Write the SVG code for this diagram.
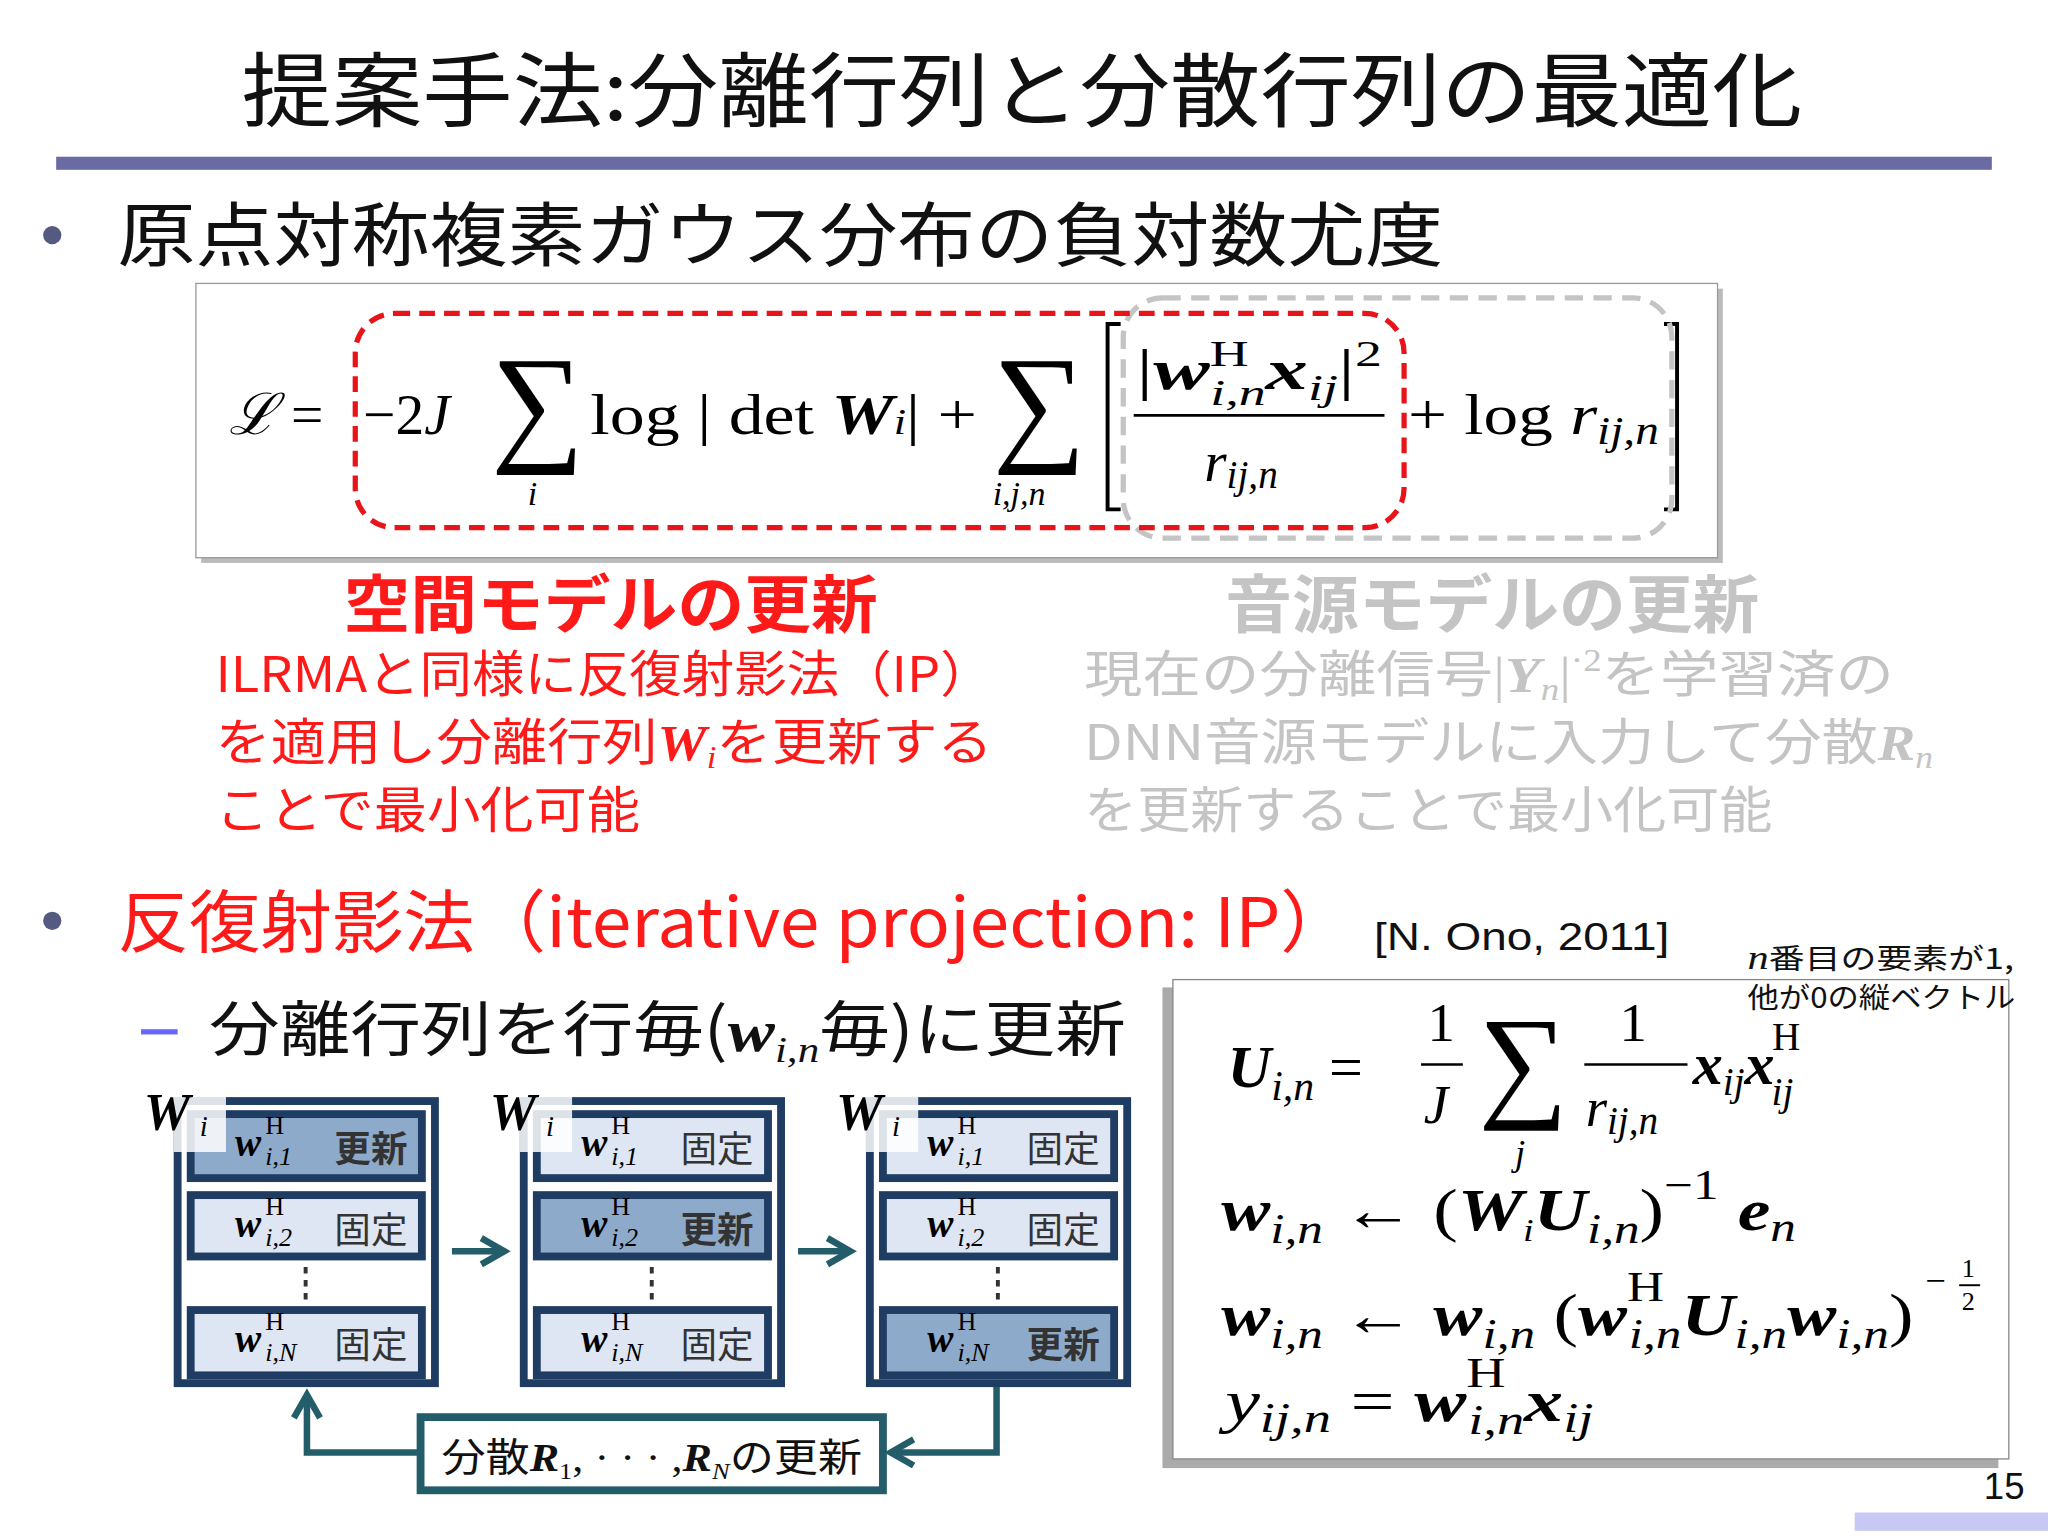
<svg xmlns="http://www.w3.org/2000/svg" width="2048" height="1536" viewBox="0 0 2048 1536">
<defs>
<style>
.jp{font-family:"Noto Sans CJK JP","Liberation Sans",sans-serif}
.m{font-family:"Liberation Serif",serif;font-style:italic}
.mr{font-family:"Liberation Serif",serif}
.mb{font-family:"Liberation Serif",serif;font-style:italic;font-weight:bold}
.red{fill:#ff1a1a}
.gr{fill:#c4c4c4}
.outer{fill:#1f3c63;stroke:none}
.lt{fill:#dde6f2}
.dk{fill:#8eaacb}
</style>
<marker id="ah" viewBox="0 0 10 10" refX="8" refY="5" markerWidth="5" markerHeight="5" orient="auto"><path d="M1,1 L8,5 L1,9" fill="none" stroke="#245d6a" stroke-width="2"/></marker>
<marker id="ak" viewBox="0 0 10 10" refX="9" refY="5" markerWidth="8" markerHeight="8" orient="auto"><path d="M1,1 L9,5 L1,9" fill="none" stroke="#000" stroke-width="1"/></marker>
</defs>
<rect width="2048" height="1536" fill="#fff"/>
<g transform="scale(1.30612)">
<g id="title">
<text x="185" y="92" class="jp" font-size="62" fill="#111" textLength="1195" lengthAdjust="spacingAndGlyphs">提案手法:分離行列と分散行列の最適化</text>
<rect x="43" y="120" width="1482" height="10" fill="#6b6ba3"/>
</g>
<g id="bullet1">
<circle cx="40" cy="180" r="7" fill="#555a80"/>
<text x="90" y="200" class="jp" font-size="54" fill="#111" textLength="1015" lengthAdjust="spacingAndGlyphs">原点対称複素ガウス分布の負対数尤度</text>
</g>
<g id="eqbox">
<rect x="154" y="221" width="1165" height="210" fill="#bbb"/>
<rect x="150" y="217" width="1165" height="210" fill="#fff" stroke="#999" stroke-width="1"/>
<text x="175" y="332" font-size="44"><tspan class="m">ℒ</tspan><tspan class="mr"> = </tspan></text>
<text x="278" y="332" font-size="44" class="mr">−2<tspan class="m">J</tspan></text>
<text x="376" y="342" class="mr" font-size="100">∑</text>
<text x="404" y="387" class="m" font-size="26">i</text>
<text x="452" y="332" font-size="44" textLength="296" lengthAdjust="spacingAndGlyphs"><tspan class="mr">log | det </tspan><tspan class="mb">W</tspan><tspan class="m" font-size="28">i</tspan><tspan class="mr">| +</tspan></text>
<text x="760" y="342" class="mr" font-size="100">∑</text>
<text x="760" y="387" class="m" font-size="26">i,j,n</text>
<text x="870" y="298" font-size="44" textLength="188" lengthAdjust="spacingAndGlyphs"><tspan class="mr">|</tspan><tspan class="mb">w</tspan><tspan class="mr" font-size="28" dy="-18">H</tspan><tspan class="m" font-size="28" dx="-20" dy="30">i,n</tspan><tspan class="mb" dy="-12">x</tspan><tspan class="m" font-size="28" dy="8">ij</tspan><tspan class="mr" dy="-8">|</tspan><tspan class="mr" font-size="28" dy="-18">2</tspan></text>
<line x1="868" y1="318" x2="1060" y2="318" stroke="#000" stroke-width="2"/>
<text x="922" y="368" font-size="44"><tspan class="m">r</tspan><tspan class="m" font-size="30" dy="6">ij,n</tspan></text>
<text x="1078" y="332" font-size="44" textLength="192" lengthAdjust="spacingAndGlyphs"><tspan class="mr">+ log </tspan><tspan class="m">r</tspan><tspan class="m" font-size="30" dy="8">ij,n</tspan></text>
<path d="M1274,248 h10 v142 h-10" fill="none" stroke="#000" stroke-width="3"/>
<path d="M858,248 h-10 v142 h10" fill="none" stroke="#000" stroke-width="3"/>
<rect x="860" y="228" width="420" height="184" rx="30" fill="none" stroke="#c4c4c4" stroke-width="4" stroke-dasharray="14 8"/>
<rect x="272" y="240" width="803" height="164" rx="30" fill="none" stroke="#e8141a" stroke-width="4" stroke-dasharray="12 7"/>
</g>
<g id="spatial">
<text x="263" y="480" class="jp red" font-weight="bold" font-size="48" textLength="409" lengthAdjust="spacingAndGlyphs">空間モデルの更新</text>
<text x="165" y="530" class="jp red" font-size="38" textLength="595" lengthAdjust="spacingAndGlyphs">ILRMAと同様に反復射影法（IP）</text>
<text x="165" y="582" class="jp red" font-size="38" textLength="595" lengthAdjust="spacingAndGlyphs">を適用し分離行列<tspan class="mb">W</tspan><tspan class="m" font-size="24" dy="6">i</tspan><tspan dy="-6">を更新する</tspan></text>
<text x="165" y="634" class="jp red" font-size="38" textLength="325" lengthAdjust="spacingAndGlyphs">ことで最小化可能</text>
</g>
<g id="source">
<text x="938" y="480" class="jp gr" font-weight="bold" font-size="48" textLength="409" lengthAdjust="spacingAndGlyphs">音源モデルの更新</text>
<text x="830" y="530" class="jp gr" font-size="38" textLength="620" lengthAdjust="spacingAndGlyphs">現在の分離信号<tspan class="mr">|</tspan><tspan class="mb">Y</tspan><tspan class="m" font-size="24" dy="6">n</tspan><tspan class="mr" dy="-6">|</tspan><tspan class="mr" font-size="24" dy="-16">·2</tspan><tspan dy="16">を学習済の</tspan></text>
<text x="830" y="582" class="jp gr" font-size="38" textLength="650" lengthAdjust="spacingAndGlyphs">DNN音源モデルに入力して分散<tspan class="mb">R</tspan><tspan class="m" font-size="24" dy="6">n</tspan></text>
<text x="830" y="634" class="jp gr" font-size="38" textLength="527" lengthAdjust="spacingAndGlyphs">を更新することで最小化可能</text>
</g>
<g id="bullet2">
<circle cx="40" cy="705" r="7" fill="#555a80"/>
<text x="90" y="725" class="jp red" font-size="52" textLength="945" lengthAdjust="spacingAndGlyphs">反復射影法（iterative projection: IP）</text>
<text x="1052" y="727" font-family="Liberation Sans,sans-serif" font-size="30" fill="#111" textLength="226" lengthAdjust="spacingAndGlyphs">[N. Ono, 2011]</text>
<rect x="108" y="788" width="28" height="4" fill="#6666ff"/>
<text x="160" y="805" class="jp" font-size="46" fill="#111" textLength="702" lengthAdjust="spacingAndGlyphs">分離行列を行毎(<tspan class="mb">w</tspan><tspan class="m" font-size="28" dy="8">i,n</tspan><tspan dy="-8">毎)に更新</tspan></text>
</g>
<g id="mat1">
<rect x="133" y="840" width="203" height="222" class="outer"/>
<rect x="139" y="846" width="191" height="210" fill="#fff"/>
<rect x="143" y="850" width="183" height="55" class="outer"/><rect x="149" y="856" width="171" height="43" class="dk"/>
<rect x="143" y="912" width="183" height="53" class="outer"/><rect x="149" y="918" width="171" height="41" class="lt"/>
<rect x="143" y="1000" width="183" height="56" class="outer"/><rect x="149" y="1006" width="171" height="44" class="lt"/>
<line x1="234" y1="970" x2="234" y2="997" stroke="#333" stroke-width="3" stroke-dasharray="5 5"/>
</g>
<g id="mat2">
<rect x="398" y="840" width="203" height="222" class="outer"/>
<rect x="404" y="846" width="191" height="210" fill="#fff"/>
<rect x="408" y="850" width="183" height="55" class="outer"/><rect x="414" y="856" width="171" height="43" class="lt"/>
<rect x="408" y="912" width="183" height="53" class="outer"/><rect x="414" y="918" width="171" height="41" class="dk"/>
<rect x="408" y="1000" width="183" height="56" class="outer"/><rect x="414" y="1006" width="171" height="44" class="lt"/>
<line x1="499" y1="970" x2="499" y2="997" stroke="#333" stroke-width="3" stroke-dasharray="5 5"/>
</g>
<g id="mat3">
<rect x="663" y="840" width="203" height="222" class="outer"/>
<rect x="669" y="846" width="191" height="210" fill="#fff"/>
<rect x="673" y="850" width="183" height="55" class="outer"/><rect x="679" y="856" width="171" height="43" class="lt"/>
<rect x="673" y="912" width="183" height="53" class="outer"/><rect x="679" y="918" width="171" height="41" class="lt"/>
<rect x="673" y="1000" width="183" height="56" class="outer"/><rect x="679" y="1006" width="171" height="44" class="dk"/>
<line x1="764" y1="970" x2="764" y2="997" stroke="#333" stroke-width="3" stroke-dasharray="5 5"/>
</g>
<g id="matlabels" font-size="30">
<rect x="133" y="836" width="40" height="46" fill="#fff" opacity="0.85"/><text x="110" y="865" class="mb" font-size="40">W</text><text x="153" y="870" class="m" font-size="22">i</text>
<rect x="398" y="836" width="40" height="46" fill="#fff" opacity="0.85"/><text x="375" y="865" class="mb" font-size="40">W</text><text x="418" y="870" class="m" font-size="22">i</text>
<rect x="663" y="836" width="40" height="46" fill="#fff" opacity="0.85"/><text x="640" y="865" class="mb" font-size="40">W</text><text x="683" y="870" class="m" font-size="22">i</text>
<text x="180" y="885" class="mb">w</text><text x="203" y="868" class="mr" font-size="20">H</text><text x="203" y="892" class="m" font-size="20">i,1</text><text x="256" y="890" class="jp" font-weight="bold" font-size="28" fill="#333">更新</text>
<text x="180" y="947" class="mb">w</text><text x="203" y="930" class="mr" font-size="20">H</text><text x="203" y="954" class="m" font-size="20">i,2</text><text x="256" y="952" class="jp" font-size="28" fill="#333">固定</text>
<text x="180" y="1035" class="mb">w</text><text x="203" y="1018" class="mr" font-size="20">H</text><text x="203" y="1042" class="m" font-size="20">i,N</text><text x="256" y="1040" class="jp" font-size="28" fill="#333">固定</text>
<text x="445" y="885" class="mb">w</text><text x="468" y="868" class="mr" font-size="20">H</text><text x="468" y="892" class="m" font-size="20">i,1</text><text x="521" y="890" class="jp" font-size="28" fill="#333">固定</text>
<text x="445" y="947" class="mb">w</text><text x="468" y="930" class="mr" font-size="20">H</text><text x="468" y="954" class="m" font-size="20">i,2</text><text x="521" y="952" class="jp" font-weight="bold" font-size="28" fill="#333">更新</text>
<text x="445" y="1035" class="mb">w</text><text x="468" y="1018" class="mr" font-size="20">H</text><text x="468" y="1042" class="m" font-size="20">i,N</text><text x="521" y="1040" class="jp" font-size="28" fill="#333">固定</text>
<text x="710" y="885" class="mb">w</text><text x="733" y="868" class="mr" font-size="20">H</text><text x="733" y="892" class="m" font-size="20">i,1</text><text x="786" y="890" class="jp" font-size="28" fill="#333">固定</text>
<text x="710" y="947" class="mb">w</text><text x="733" y="930" class="mr" font-size="20">H</text><text x="733" y="954" class="m" font-size="20">i,2</text><text x="786" y="952" class="jp" font-size="28" fill="#333">固定</text>
<text x="710" y="1035" class="mb">w</text><text x="733" y="1018" class="mr" font-size="20">H</text><text x="733" y="1042" class="m" font-size="20">i,N</text><text x="786" y="1040" class="jp" font-weight="bold" font-size="28" fill="#333">更新</text>
</g>
<g id="varbox">
<rect x="322" y="1085" width="354" height="56" fill="#fff" stroke="#245d6a" stroke-width="6"/>
<text x="338" y="1126" class="jp" font-size="30" fill="#111" textLength="322" lengthAdjust="spacingAndGlyphs">分散<tspan class="mb">R</tspan><tspan class="mr" font-size="18" dy="6">1</tspan><tspan class="mr" dy="-6">, · · · ,</tspan><tspan class="mb">R</tspan><tspan class="m" font-size="18" dy="6">N</tspan><tspan dy="-6">の更新</tspan></text>
</g>
<g id="connectors" fill="none" stroke="#245d6a" stroke-width="5">
<line x1="346" y1="958" x2="386" y2="958" marker-end="url(#ah)"/>
<line x1="611" y1="958" x2="651" y2="958" marker-end="url(#ah)"/>
<polyline points="763,1062 763,1112 682,1112" marker-end="url(#ah)"/>
<polyline points="322,1112 235,1112 235,1068" marker-end="url(#ah)"/>
<line x1="1478" y1="793" x2="1372" y2="918" stroke="#000" stroke-width="1.5" marker-end="url(#ak)"/>
</g>
<g id="ipbox">
<rect x="890" y="756" width="640" height="368" fill="#aaa"/>
<rect x="898" y="750" width="640" height="367" fill="#fff" stroke="#888" stroke-width="1"/>
<text x="940" y="832" font-size="46"><tspan class="mb">U</tspan><tspan class="m" font-size="32" dy="10">i,n</tspan><tspan class="mr" dy="-10"> =</tspan></text>
<text x="1093" y="797" class="mr" font-size="42">1</text><line x1="1088" y1="815" x2="1120" y2="815" stroke="#000" stroke-width="2"/><text x="1090" y="860" class="m" font-size="42">J</text>
<text x="1132" y="845" class="mr" font-size="96">∑</text><text x="1160" y="892" class="m" font-size="28">j</text>
<text x="1240" y="797" class="mr" font-size="42">1</text><line x1="1213" y1="815" x2="1292" y2="815" stroke="#000" stroke-width="2"/><text x="1214" y="862" font-size="42"><tspan class="m">r</tspan><tspan class="m" font-size="30" dy="6">ij,n</tspan></text>
<text x="1296" y="830" font-size="46"><tspan class="mb">x</tspan><tspan class="m" font-size="30" dy="8">ij</tspan><tspan class="mb" dy="-8">x</tspan><tspan class="mr" font-size="30" dx="-2" dy="-26">H</tspan><tspan class="m" font-size="30" dx="-22" dy="42">ij</tspan></text>
<text x="935" y="942" font-size="46" textLength="440" lengthAdjust="spacingAndGlyphs"><tspan class="mb">w</tspan><tspan class="m" font-size="32" dy="10">i,n</tspan><tspan class="mr" dy="-10"> ← (</tspan><tspan class="mb">W</tspan><tspan class="m" font-size="24" dy="8">i</tspan><tspan class="mb" dy="-8">U</tspan><tspan class="m" font-size="32" dy="10">i,n</tspan><tspan class="mr" dy="-10">)</tspan><tspan class="mr" font-size="32" dy="-24">−1</tspan><tspan class="mb" dx="12" dy="24">e</tspan><tspan class="m" font-size="32" dy="8">n</tspan></text>
<text x="935" y="1022" font-size="46" textLength="530" lengthAdjust="spacingAndGlyphs"><tspan class="mb">w</tspan><tspan class="m" font-size="32" dy="10">i,n</tspan><tspan class="mr" dy="-10"> ← </tspan><tspan class="mb">w</tspan><tspan class="m" font-size="32" dy="10">i,n</tspan><tspan class="mr" dy="-10"> (</tspan><tspan class="mb">w</tspan><tspan class="mr" font-size="32" dy="-26">H</tspan><tspan class="m" font-size="32" dx="-22" dy="36">i,n</tspan><tspan class="mb" dy="-10">U</tspan><tspan class="m" font-size="32" dy="10">i,n</tspan><tspan class="mb" dy="-10">w</tspan><tspan class="m" font-size="32" dy="10">i,n</tspan><tspan class="mr" dy="-10">)</tspan></text>
<text x="1474" y="990" class="mr" font-size="28">−</text><text x="1502" y="978" class="mr" font-size="20">1</text><line x1="1500" y1="984" x2="1516" y2="984" stroke="#000" stroke-width="1.5"/><text x="1502" y="1003" class="mr" font-size="20">2</text>
<text x="938" y="1088" font-size="46" textLength="282" lengthAdjust="spacingAndGlyphs"><tspan class="m">y</tspan><tspan class="m" font-size="32" dy="8">ij,n</tspan><tspan class="mr" dy="-8"> = </tspan><tspan class="mb">w</tspan><tspan class="mr" font-size="32" dy="-26">H</tspan><tspan class="m" font-size="32" dx="-22" dy="36">i,n</tspan><tspan class="mb" dy="-10">x</tspan><tspan class="m" font-size="32" dy="8">ij</tspan></text>
</g>
<g id="note">
<text x="1338" y="742" class="jp" font-size="22" fill="#111" textLength="204" lengthAdjust="spacingAndGlyphs"><tspan class="m" font-size="26">n</tspan>番目の要素が1,</text>
<text x="1338" y="772" class="jp" font-size="22" fill="#111" textLength="205" lengthAdjust="spacingAndGlyphs">他が0の縦ベクトル</text>
</g>
<g id="footer">
<text x="1550" y="1148" text-anchor="end" font-family="Liberation Sans,sans-serif" font-size="28" fill="#111">15</text>
<rect x="1420" y="1158" width="148" height="14" fill="#c8c8f4"/>
</g>
</g>
</svg>
